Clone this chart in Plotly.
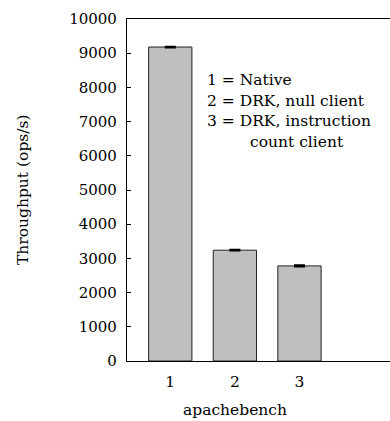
import plotly.graph_objects as go

# Throughput results for apachebench
categories = [1, 2, 3]
throughput = [9180, 3240, 2780]
throughput_err = [15, 15, 20]
y_ticks = [0, 1000, 2000, 3000, 4000, 5000, 6000, 7000, 8000, 9000, 10000]
key_lines = ["1 = Native", "2 = DRK, null client", "3 = DRK, instruction", "count client"]

FONT = "DejaVu Serif"
W, H = 390, 421
ML, MR, MT, MB = 127, 0, 19, 60
PW, PH = W - ML - MR, H - MT - MB

fig = go.Figure(
    go.Bar(
        x=categories,
        y=throughput,
        width=0.67,
        marker=dict(color="#bfbfbf", line=dict(color="#222222", width=1)),
        error_y=dict(type="data", array=throughput_err, color="black",
                     thickness=1.8, width=5.5),
    )
)


def px_x(p):
    return (p - ML) / PW


def px_y(p):
    return (H - MB - p) / PH


annotations = [
    dict(text="Throughput (ops/s)", textangle=-90, xref="paper", yref="paper",
         x=px_x(23), y=0.5, xanchor="center", yanchor="middle", showarrow=False,
         font=dict(family=FONT, size=15.5, color="black")),
    dict(text="apachebench", xref="paper", yref="paper",
         x=px_x(235), y=px_y(410), xanchor="center", yanchor="middle", showarrow=False,
         font=dict(family=FONT, size=15.5, color="black")),
]
key_pos = [(205, 80), (205, 100.5), (205, 121), (248, 141.5)]
for line, (lx, ly) in zip(key_lines, key_pos):
    annotations.append(dict(text=line, xref="paper", yref="paper",
                            x=px_x(lx), y=px_y(ly), xanchor="left", yanchor="middle",
                            showarrow=False,
                            font=dict(family=FONT, size=15.5, color="black")))

# the box is open on the right: mask the right edge of the plot area
shapes = [dict(type="line", xref="paper", yref="paper", x0=1, x1=1,
               y0=0.004, y1=0.996, layer="above",
               line=dict(color="white", width=4))]

x_lo = 0.33
x_per_px = 1 / 64.6
fig.update_layout(
    width=W, height=H,
    margin=dict(l=ML, r=MR, t=MT, b=MB, pad=0),
    paper_bgcolor="white", plot_bgcolor="white",
    showlegend=False,
    font=dict(family=FONT, size=15.5, color="black"),
    xaxis=dict(range=[x_lo, x_lo + PW * x_per_px], tickvals=categories,
               ticktext=[str(c) for c in categories],
               showgrid=False, zeroline=False, showline=True, linecolor="black",
               linewidth=1.2, mirror=True, ticks="",
               ticklabelstandoff=6,
               tickfont=dict(family=FONT, size=15.5, color="black")),
    yaxis=dict(range=[0, 10000], tickvals=y_ticks, ticktext=[str(v) for v in y_ticks],
               showgrid=False, zeroline=False, mirror=False,
               showline=True, linecolor="black", linewidth=1.2, ticks="inside",
               ticklen=4, tickcolor="black", ticklabelstandoff=6,
               tickfont=dict(family=FONT, size=15, color="black")),
    shapes=shapes,
    annotations=annotations,
)

fig.write_html("out.html")
